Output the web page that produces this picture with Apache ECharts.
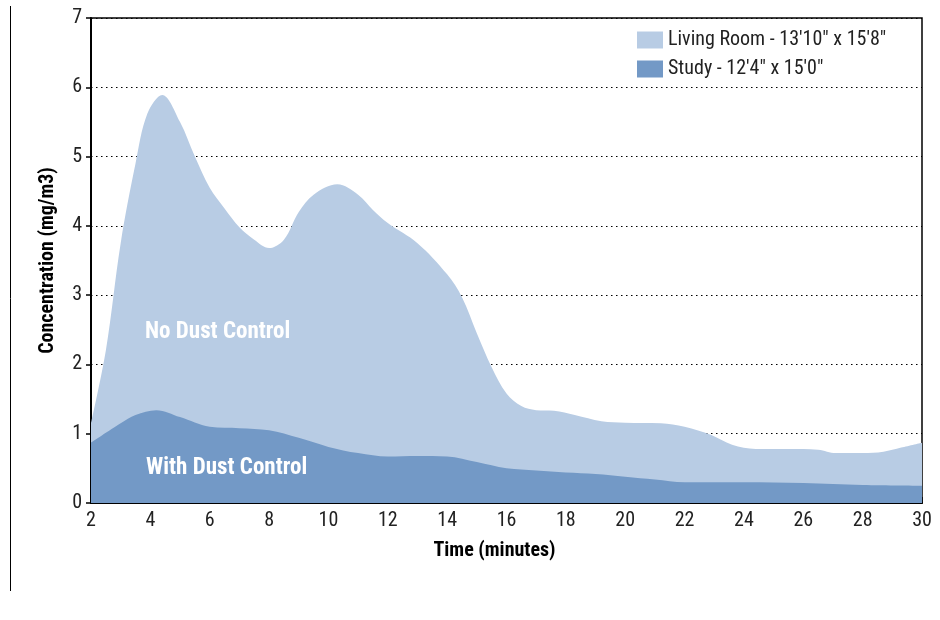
<!DOCTYPE html>
<html><head><meta charset="utf-8">
<script src="https://cdn.jsdelivr.net/npm/echarts@6/dist/echarts.min.js"></script>
<style>html,body{margin:0;padding:0;background:#fff}#c{width:940px;height:620px}</style>
</head><body><div id="c"></div>
<script>
const FONT = '"Liberation Sans Narrow", "Roboto Condensed", "Arial Narrow", sans-serif';
const seriesNames = ["Living Room - 13'10\" x 15'8\"", "Study - 12'4\" x 15'0\""];
const livingRoom = [[2,1.15],[2.5,2.2],[3,3.75],[3.5,4.9],[3.9,5.62],[4.4,5.89],[5,5.5],[5.5,5.0],[6,4.55],[6.5,4.25],[7,3.98],[7.5,3.8],[8,3.68],[8.5,3.8],[9,4.2],[9.5,4.45],[10.3,4.6],[11,4.45],[11.5,4.23],[12,4.04],[13,3.75],[14,3.3],[14.5,2.97],[15,2.45],[15.5,1.96],[16,1.58],[16.5,1.4],[17,1.34],[17.6,1.33],[18.3,1.27],[19.2,1.18],[20,1.16],[21.2,1.15],[22,1.1],[22.9,0.98],[23.6,0.84],[24.4,0.78],[25.5,0.78],[26.5,0.77],[27.1,0.72],[28,0.72],[28.7,0.74],[29.3,0.8],[30,0.87]];
const study = [[2,0.87],[3,1.15],[3.5,1.27],[4.2,1.34],[5,1.24],[6,1.1],[7,1.08],[8,1.05],[9,0.94],[10,0.81],[11,0.72],[12,0.67],[13,0.68],[14,0.67],[15,0.59],[16,0.5],[17,0.47],[18,0.44],[19,0.42],[20,0.38],[21,0.34],[22,0.3],[24,0.3],[26,0.29],[28,0.26],[30,0.25]];
const xTicks = {min:2, max:30, interval:2};
const yTicks = {min:0, max:7, interval:1};
const colors = ['#b8cce4', '#7399c6'];

const chart = echarts.init(document.getElementById('c'), null, {renderer:'canvas'});
chart.setOption({
  animation:false,
  textStyle:{fontFamily:FONT},
  grid:{left:91, right:18, top:18, bottom:117, show:true, borderColor:'#000', borderWidth:1.5, backgroundColor:'transparent'},
  legend:{
    orient:'vertical', left:632, top:25, itemWidth:26, itemHeight:17, itemGap:9,
    icon:'rect',
    textStyle:{fontFamily:FONT, fontSize:20, color:'#222'},
    data:seriesNames
  },
  xAxis:{
    type:'value', min:xTicks.min, max:xTicks.max, interval:xTicks.interval,
    name:'Time (minutes)', nameLocation:'middle', nameGap:38,
    nameTextStyle:{fontFamily:FONT, fontWeight:'bold', fontSize:20, color:'#000', padding:[0,24,0,0]},
    axisLine:{show:true, onZero:false, lineStyle:{color:'#000', width:2}},
    axisTick:{show:true, inside:true, length:6, lineStyle:{color:'#000', width:1.5}},
    axisLabel:{fontFamily:FONT, fontSize:20, color:'#222', margin:8},
    splitLine:{show:false}
  },
  yAxis:{
    type:'value', min:yTicks.min, max:yTicks.max, interval:yTicks.interval,
    name:'Concentration (mg/m3)', nameLocation:'middle', nameGap:33, nameRotate:90,
    nameTextStyle:{fontFamily:FONT, fontWeight:'bold', fontSize:20, color:'#000'},
    axisLine:{show:true, lineStyle:{color:'#000', width:2}},
    axisTick:{show:true, length:5, lineStyle:{color:'#000', width:1.5}},
    axisLabel:{fontFamily:FONT, fontSize:20, color:'#222', margin:9},
    splitLine:{show:true, lineStyle:{color:'#000', type:[1.5,3.5], width:1.2}}
  },
  series:[
    {name:seriesNames[0], type:'line', data:livingRoom, smooth:0.35, symbol:'none', z:2,
     lineStyle:{width:0}, itemStyle:{color:colors[0]}, areaStyle:{color:colors[0], opacity:1}},
    {name:seriesNames[1], type:'line', data:study, smooth:0.35, symbol:'none', z:3,
     lineStyle:{width:0}, itemStyle:{color:colors[1]}, areaStyle:{color:colors[1], opacity:1}}
  ],
  graphic:[
    {type:'line', shape:{x1:10.5, y1:6, x2:10.5, y2:591}, style:{stroke:'#000', lineWidth:1}},
    {type:'text', left:145, top:321, z:10, style:{text:'No Dust Control', fill:'#fff', font:'bold 23px ' + FONT}},
    {type:'text', left:146, top:457, z:10, style:{text:'With Dust Control', fill:'#fff', font:'bold 23px ' + FONT}}
  ]
});
</script></body></html>
